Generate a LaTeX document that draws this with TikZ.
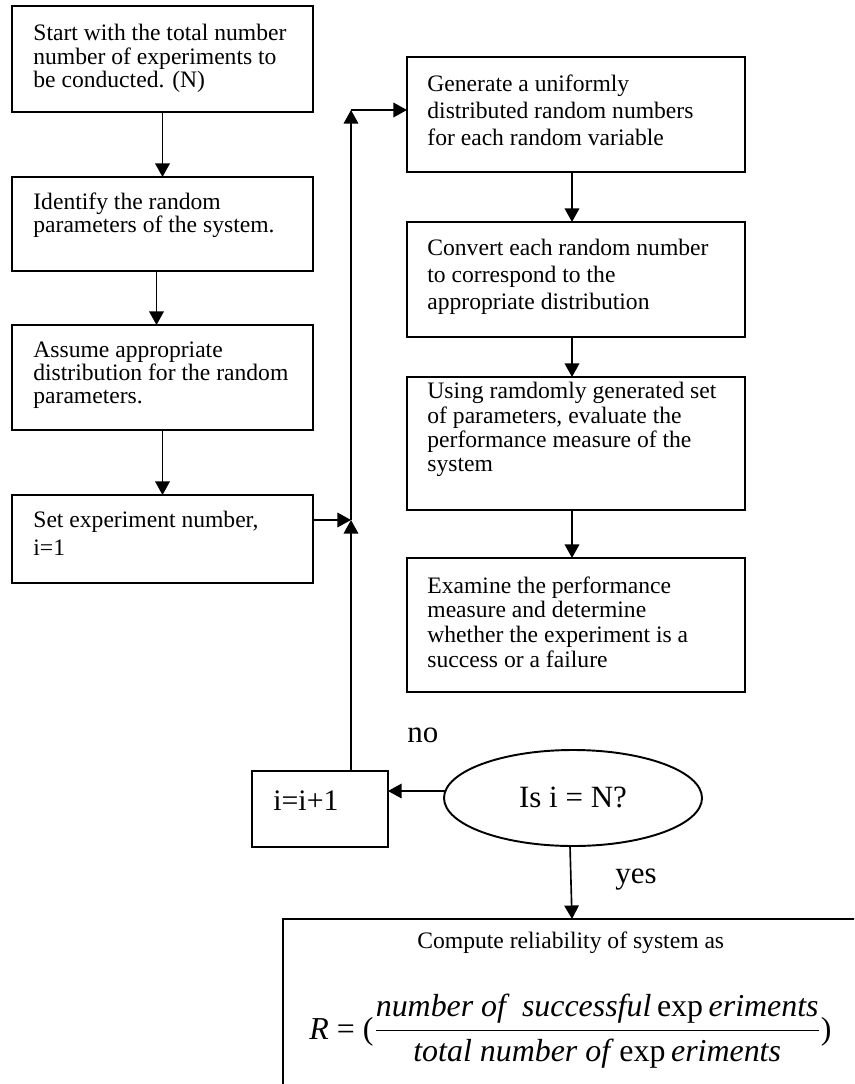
\documentclass[tikz,border=0pt]{standalone}
\usepackage{fontspec}
\setmainfont{Liberation Serif}
\usetikzlibrary{arrows.meta,calc,shapes.geometric}
\begin{document}
\begin{tikzpicture}[x=0.517pt,y=-0.517pt,
  boxstyle/.style 2 args={draw,line width=1pt,rectangle,inner sep=0pt,outer sep=0pt,
    anchor=north west,minimum width=#1*0.517pt,minimum height=#2*0.517pt},
  txt/.style={anchor=north west,inner sep=0pt,align=left,font=\fontsize{12.2}{#1}\selectfont},
  arr/.style={line width=0.85pt,-{Triangle[length=7pt,width=7.5pt]}},
  lbl/.style={inner sep=0pt,font=\fontsize{16}{19}\selectfont}]
\useasboundingbox (0,0) rectangle (854,1084);
\clip (0,0) rectangle (854,1084);
% left column
\node[boxstyle={301}{106}] (b1) at (12,6) {};
\node[txt=12.1pt] (b1t) at (33,24) {Start with the total number\\number of experiments to\\be conducted. (N)};
\node[boxstyle={301}{94}] (b2) at (12,177) {};
\node[txt=12.1pt] (b2t) at (33,192) {Identify the random\\parameters of the system.};
\node[boxstyle={301}{105}] (b3) at (12,325) {};
\node[txt=12.1pt] (b3t) at (33,341) {Assume appropriate\\distribution for the random\\parameters.};
\node[boxstyle={301}{88}] (b4) at (12,495) {};
\node[txt=14.5pt] (b4t) at (33,511) {Set experiment number,\\i=1};
% right column
\node[boxstyle={338}{115}] (b5) at (407,57) {};
\node[txt=14pt] (b5t) at (427,74) {Generate a uniformly\\distributed random numbers\\for each random variable};
\node[boxstyle={338}{115}] (b6) at (407,222) {};
\node[txt=14pt] (b6t) at (427,239) {Convert each random number\\to correspond to the\\appropriate distribution};
\node[boxstyle={338}{133}] (b7) at (407,377) {};
\node[txt=12.6pt] (b7t) at (427,382) {Using ramdomly generated set\\of parameters, evaluate the\\performance measure of the\\system};
\node[boxstyle={338}{134}] (b8) at (407,558) {};
\node[txt=12.9pt] (b8t) at (427,576) {Examine the performance\\measure and determine\\whether the experiment is a\\success or a failure};
% loop
\node[boxstyle={136}{76}] (inc) at (252,771) {};
\node[anchor=base west,inner sep=0pt,font=\fontsize{15.4}{18}\selectfont] (inct) at (273,810) {i=i+1};
\node[draw,line width=1pt,ellipse,inner sep=0pt,outer sep=0pt,minimum width=258*0.517pt,
  minimum height=96*0.517pt,font=\fontsize{16}{19}\selectfont,text height=0.97em,text depth=0pt] (e) at (573,798) {Is i = N?};
\node[lbl,anchor=base west] (no) at (407,742) {no};
\node[lbl,anchor=base west] (yes) at (615,883) {yes};
% result
\node[boxstyle={620}{200}] (res) at (283,919) {};
\node[anchor=base west,inner sep=0pt,font=\fontsize{12.2}{14}\selectfont] (rest) at (417,948) {Compute reliability of system as};
\node[anchor=base west,inner sep=0pt,font=\fontsize{16.5}{20}\selectfont] (form) at (309,1039)
  {$\displaystyle\mbox{\textit{R} = (}\frac{\mbox{\itshape number of\ \ successful}\,\mbox{exp}\,\mbox{\itshape eriments}}{\mbox{\itshape total number of}\;\mbox{exp}\,\mbox{\itshape eriments}}\mbox{)}$};
% connectors
\draw[arr] (b1.south) -- (b2.north);
\draw[arr] ($(b2.south)+(-6,0)$) -- ($(b3.north)+(-6,0)$);
\draw[arr] (b3.south) -- (b4.north);
\draw[arr] ($(b5.south)+(-4,0)$) -- ($(b6.north)+(-4,0)$);
\draw[arr] ($(b6.south)+(-4,0)$) -- ($(b7.north)+(-4,0)$);
\draw[arr] ($(b7.south)+(-4,0)$) -- ($(b8.north)+(-4,0)$);
\coordinate (j1) at (351,520);
\coordinate (j2) at (351,110);
\draw[arr] (b4.east |- j1) -- (j1);
\draw[arr] (inc.north -| j1) -- (j1);
\draw[arr] (j1) -- (j2);
\draw[arr] (j2) -- (b5.west |- j2);
\coordinate (eL) at ($(e.west)+(1,-7)$);
\draw[arr] (eL) -- (inc.east |- eL);
\coordinate (eB) at ($(e.south)+(-3,0)$);
\coordinate (rT) at ($(res.north west)+(289,0)$);
\draw[arr] (eB) -- (rT);
\end{tikzpicture}
\end{document}
